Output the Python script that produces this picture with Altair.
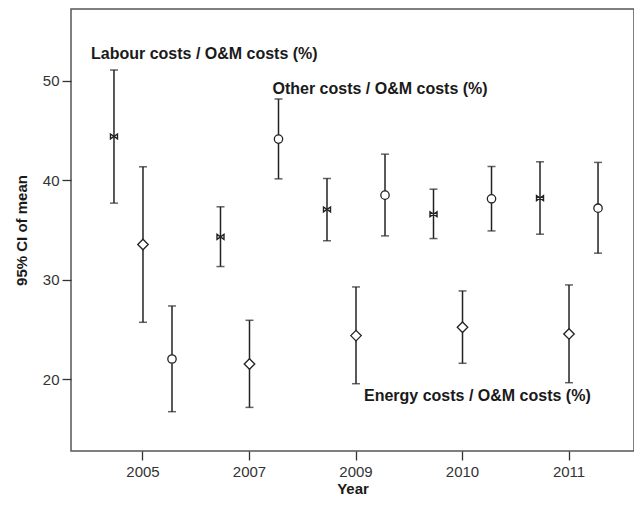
import altair as alt
import pandas as pd

years = ["2005", "2007", "2009", "2010", "2011"]
series = ["Labour", "Energy", "Other"]

labour_mean = [44.40, 34.31, 37.06, 36.59, 38.20]
labour_lo = [37.70, 31.33, 33.91, 34.14, 34.58]
labour_hi = [51.07, 37.33, 40.18, 39.10, 41.85]
energy_mean = [33.54, 21.54, 24.39, 25.23, 24.56]
energy_lo = [25.73, 17.18, 19.56, 21.61, 19.66]
energy_hi = [41.35, 25.93, 29.28, 28.88, 29.48]
other_mean = [22.04, 44.13, 38.50, 38.13, 37.19]
other_lo = [16.75, 40.14, 34.41, 34.91, 32.67]
other_hi = [27.37, 48.16, 42.62, 41.38, 41.79]

label_text = ["Labour costs / O&M costs (%)", "Other costs / O&M costs (%)", "Energy costs / O&M costs (%)"]
label_series = ["Labour", "Other", "Energy"]
label_year = ["2005", "2007", "2009"]
label_y = [52.7, 49.15, 18.3]

rows = []
for s, m, lo, hi in [("Labour", labour_mean, labour_lo, labour_hi),
                     ("Energy", energy_mean, energy_lo, energy_hi),
                     ("Other", other_mean, other_lo, other_hi)]:
    for i, yr in enumerate(years):
        rows.append({"year": yr, "series": s, "mean": m[i], "lo": lo[i], "hi": hi[i]})
df = pd.DataFrame(rows)
lab = pd.DataFrame({"text": label_text, "series": label_series, "year": label_year, "y": label_y})

xenc = alt.X("year:N", sort=years, title="Year",
             scale=alt.Scale(type="band", paddingInner=0, paddingOuter=0.143, align=0.615),
             axis=alt.Axis(labelAngle=0, tickSize=9, labelPadding=4, titlePadding=2,
                           domain=False, tickColor="#333", tickWidth=1.3))
xoff = alt.XOffset("series:N", sort=series,
                   scale=alt.Scale(type="band", domain=series, paddingInner=0, paddingOuter=0.336))
ydom = alt.Scale(domain=[12.8, 57.2], nice=False, zero=False)
yenc = alt.Y("lo:Q", scale=ydom, title="95% CI of mean",
             axis=alt.Axis(values=[20, 30, 40, 50], tickSize=9, labelPadding=3, titlePadding=13,
                           grid=False, domain=False, tickColor="#333", tickWidth=1.3))

base = alt.Chart(df)
rule = base.mark_rule(color="#222", strokeWidth=1.5).encode(x=xenc, xOffset=xoff, y=yenc, y2="hi:Q")
tick_lo = base.mark_tick(color="#222", thickness=1.5, size=8, orient="horizontal").encode(
    x=xenc, xOffset=xoff, y=alt.Y("lo:Q", scale=ydom))
tick_hi = base.mark_tick(color="#222", thickness=1.5, size=8, orient="horizontal").encode(
    x=xenc, xOffset=xoff, y=alt.Y("hi:Q", scale=ydom))

bowtie = "M-1,-0.7L1,0.7L1,-0.7L-1,0.7Z"
pts_l = base.transform_filter(alt.datum.series == "Labour").mark_point(
    shape=bowtie, size=49, filled=True, fill="white", stroke="#222", strokeWidth=1.4, opacity=1).encode(
    x=xenc, xOffset=xoff, y=alt.Y("mean:Q", scale=ydom))
pts_e = base.transform_filter(alt.datum.series == "Energy").mark_point(
    shape="diamond", size=110, filled=True, fill="white", stroke="#222", strokeWidth=1.3, opacity=1).encode(
    x=xenc, xOffset=xoff, y=alt.Y("mean:Q", scale=ydom))
pts_o = base.transform_filter(alt.datum.series == "Other").mark_point(
    shape="circle", size=70, filled=True, fill="white", stroke="#222", strokeWidth=1.3, opacity=1).encode(
    x=xenc, xOffset=xoff, y=alt.Y("mean:Q", scale=ydom))

def ann(series_name, dx):
    return alt.Chart(lab).transform_filter(alt.datum.series == series_name).mark_text(
        align="left", baseline="middle", dx=dx, fontSize=16, fontWeight="bold",
        font="Liberation Sans", color="#1a1a1a").encode(
        x=xenc, xOffset=xoff, y=alt.Y("y:Q", scale=ydom), text="text:N")

chart = alt.layer(rule, tick_lo, tick_hi, pts_l, pts_e, pts_o,
                  ann("Labour", -23), ann("Other", -6), ann("Energy", 8)).properties(
    width=563, height=442,
    autosize=alt.AutoSizeParams(type="none"),
    padding={"left": 63, "top": 1, "right": 0, "bottom": 48},
).configure_view(stroke="#555", strokeWidth=1.5).configure_axis(
    labelFont="Liberation Sans", titleFont="Liberation Sans", labelFontSize=15, titleFontSize=15,
    labelColor="#333", titleColor="#1a1a1a", titleFontWeight="bold")

chart.save("out.html", embed_options={"renderer": "svg", "actions": False})
